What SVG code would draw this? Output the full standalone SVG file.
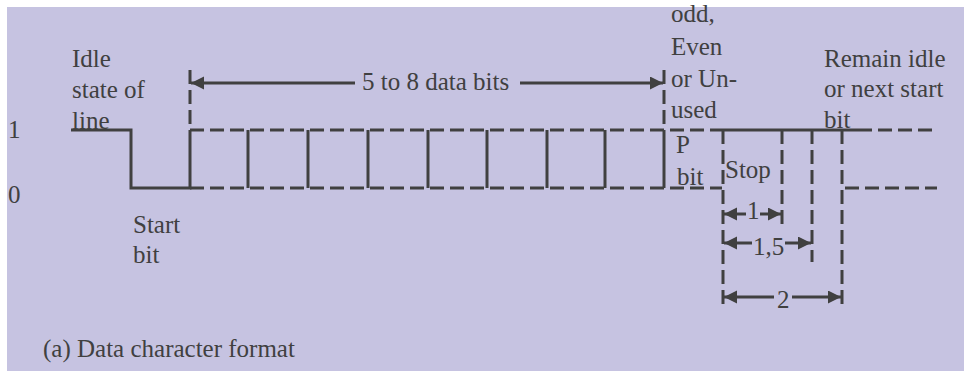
<svg xmlns="http://www.w3.org/2000/svg" width="964" height="371" viewBox="0 0 964 371">
<defs>
<style>
.t{font-family:"Liberation Serif","Times New Roman",serif;font-size:25px;fill:#404040}
.s{stroke:#404040;stroke-width:3;fill:none}
.d{stroke:#404040;stroke-width:3;fill:none;stroke-dasharray:14 6}
.a{stroke:#404040;stroke-width:3;fill:none;marker-end:url(#ah)}
</style>
<marker id="ah" markerUnits="userSpaceOnUse" markerWidth="14" markerHeight="14" refX="13" refY="6.5" orient="auto">
<path d="M0,0 L13,6.5 L0,13 Z" fill="#404040"/>
</marker>
</defs>
<rect x="0" y="0" width="964" height="371" fill="#ffffff"/>
<rect x="7" y="7" width="957" height="364" fill="#c6c3e1"/>
<g id="labels">
<text class="t" x="72" y="67">Idle</text>
<text class="t" x="72" y="98">state of</text>
<text class="t" x="72" y="129">line</text>
<text class="t" x="8" y="138">1</text>
<text class="t" x="8" y="203">0</text>
<text class="t" x="133" y="233">Start</text>
<text class="t" x="133" y="263">bit</text>
<text class="t" x="362" y="90">5 to 8 data bits</text>
<text class="t" x="671" y="22">odd,</text>
<text class="t" x="671" y="55">Even</text>
<text class="t" x="671" y="87">or Un-</text>
<text class="t" x="671" y="118">used</text>
<text class="t" x="676" y="153">P</text>
<text class="t" x="677" y="185">bit</text>
<text class="t" x="725" y="178">Stop</text>
<text class="t" x="824" y="67">Remain idle</text>
<text class="t" x="824" y="97">or next start</text>
<text class="t" x="824" y="128">bit</text>
<text class="t" x="747" y="219">1</text>
<text class="t" x="753" y="255">1,5</text>
<text class="t" x="777" y="308">2</text>
<text class="t" x="43" y="357">(a) Data character format</text>
</g>
<g id="connectors">
<polyline class="s" points="71,130 131,130 131,188 190,188 190,130"/>
<line class="d" x1="190" y1="70" x2="190" y2="130"/>
<line class="d" x1="664" y1="70" x2="664" y2="130"/>
<line class="d" x1="190" y1="130" x2="722" y2="130"/>
<line class="d" x1="190" y1="188" x2="722" y2="188"/>
<g class="s">
<line x1="248" y1="130" x2="248" y2="188"/>
<line x1="308" y1="130" x2="308" y2="188"/>
<line x1="368" y1="130" x2="368" y2="188"/>
<line x1="428" y1="130" x2="428" y2="188"/>
<line x1="487" y1="130" x2="487" y2="188"/>
<line x1="547" y1="130" x2="547" y2="188"/>
<line x1="605" y1="130" x2="605" y2="188"/>
<line x1="664" y1="130" x2="664" y2="188"/>
</g>
<line class="a" x1="355" y1="83" x2="191" y2="83"/>
<line class="a" x1="520" y1="83" x2="663" y2="83"/>
<line class="s" x1="722" y1="130" x2="858" y2="130"/>
<line class="d" x1="858" y1="130" x2="937" y2="130"/>
<line class="d" x1="845" y1="188" x2="937" y2="188"/>
<line class="d" x1="723" y1="130" x2="723" y2="308"/>
<line class="d" x1="782" y1="130" x2="782" y2="227"/>
<line class="d" x1="812" y1="130" x2="812" y2="262"/>
<line class="d" x1="842" y1="130" x2="842" y2="310"/>
<line class="a" x1="746" y1="214" x2="724" y2="214"/>
<line class="a" x1="760" y1="214" x2="781" y2="214"/>
<line class="a" x1="752" y1="243" x2="724" y2="243"/>
<line class="a" x1="785" y1="243" x2="811" y2="243"/>
<line class="a" x1="774" y1="297" x2="724" y2="297"/>
<line class="a" x1="792" y1="297" x2="841" y2="297"/>
</g>
</svg>
